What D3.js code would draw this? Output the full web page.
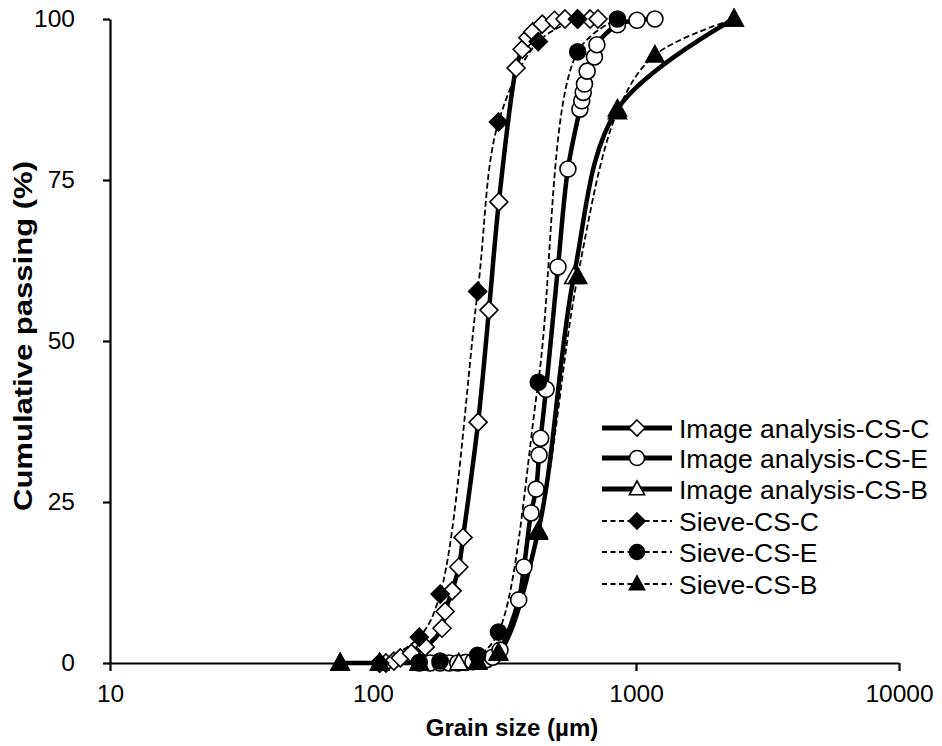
<!DOCTYPE html>
<html>
<head>
<meta charset="utf-8">
<script src="https://cdn.jsdelivr.net/npm/d3@7"></script>
<style>
  html, body { margin: 0; padding: 0; background: #fff; }
  svg { display: block; font-family: Arial, "Liberation Sans", sans-serif; }
</style>
</head>
<body>
<svg id="chart" width="942" height="746"></svg>
<script>
// Grain size (µm) and cumulative passing (%) for each series
const imageC = [[106,0],[112,0],[120,0.3],[127,0.8],[140,1.5],[158,2.5],[183,5.4],[188,8],[200,11.2],[212,14.9],[220,19.5],[251,37.4],[276,54.8],[301,71.6],[350,92.4],[369,95.3],[388,97.1],[405,98],[440,99.2],[490,99.8],[537,100],[600,100],[669,100],[717,100]];
const imageE = [[150,0],[165,0],[180,0],[195,0],[210,0],[225,0.1],[240,0.2],[255,0.3],[270,0.5],[285,0.9],[304,2],[358,9.8],[375,14.9],[399,23.3],[417,27],[428,32.3],[434,34.9],[455,42.5],[505,61.5],[551,76.7],[612,86],[622,87.3],[630,88.6],[637,89.9],[652,91.9],[695,94.1],[710,96],[850,99.1],[1009,99.8],[1180,100]];
const imageB = [[75,0],[106,0],[150,0],[212,0],[250,0.1],[300,1.5],[425,20.5],[580,60],[850,86],[2360,100]];
const sieveC = [[106,0],[150,4],[180,10.7],[250,57.7],[300,84],[425,96.5],[600,100]];
const sieveE = [[150,0.1],[180,0.3],[250,1.2],[300,4.8],[425,43.6],[600,94.9],[850,100]];
const sieveB = [[75,0],[106,0],[150,0],[250,0.2],[300,1.6],[425,20.3],[600,60],[850,85.6],[1180,94.4],[2360,100]];

const seriesNames = ["Image analysis-CS-C","Image analysis-CS-E","Image analysis-CS-B","Sieve-CS-C","Sieve-CS-E","Sieve-CS-B"];
const xTicks = [10, 100, 1000, 10000];
const yTicks = [0, 25, 50, 75, 100];
const xTitle = "Grain size (µm)";
const yTitle = "Cumulative passing (%)";

const series = [
  {name: seriesNames[0], data: imageC, shape: "diamond", filled: false, dashed: false},
  {name: seriesNames[1], data: imageE, shape: "circle",  filled: false, dashed: false},
  {name: seriesNames[2], data: imageB, shape: "triangle",filled: false, dashed: false},
  {name: seriesNames[3], data: sieveC, shape: "diamond", filled: true,  dashed: true},
  {name: seriesNames[4], data: sieveE, shape: "circle",  filled: true,  dashed: true},
  {name: seriesNames[5], data: sieveB, shape: "triangle",filled: true,  dashed: true}
];

const svg = d3.select("#chart");
const x = d3.scaleLog().domain([10, 10000]).range([110, 899]);
const y = d3.scaleLinear().domain([0, 100]).range([663, 19]);

// Axes
const xAxis = svg.append("g").attr("transform", "translate(0,663)")
  .call(d3.axisBottom(x).tickValues(xTicks).tickFormat(d3.format("d")).tickSize(8).tickPadding(14).tickSizeOuter(0));
const yAxis = svg.append("g").attr("transform", "translate(110,0)")
  .call(d3.axisLeft(y).tickValues(yTicks).tickSize(7).tickPadding(28).tickSizeOuter(0));
[xAxis, yAxis].forEach(g => {
  g.select(".domain").attr("stroke", "#000").attr("stroke-width", 2.2);
  g.selectAll(".tick line").attr("stroke", "#000").attr("stroke-width", 2.2);
  g.selectAll(".tick text").attr("fill", "#000").style("font-size", "24.5px")
    .style("font-family", "Arial, 'Liberation Sans', sans-serif");
});

svg.append("text").attr("x", 512).attr("y", 736).attr("text-anchor", "middle")
  .style("font-size", "24px").style("font-weight", "bold").text(xTitle);
// Axis title drawn tall along the axis
svg.append("text").attr("transform", "translate(32,336) rotate(-90)").attr("text-anchor", "middle")
  .attr("textLength", 350).attr("lengthAdjust", "spacingAndGlyphs")
  .style("font-size", "25px").style("font-weight", "bold").text(yTitle);

// Marker shapes
function markerPath(shape, s) {
  if (shape === "diamond") return `M0,${-s}L${s},0L0,${s}L${-s},0Z`;
  if (shape === "triangle") return `M0,${-s}L${s*0.95},${s*0.72}L${-s*0.95},${s*0.72}Z`;
  return d3.symbol().type(d3.symbolCircle).size(Math.PI * s * s)();
}
const markerSize = {diamond: 9, circle: 8, triangle: 9.5};

const line = d3.line().x(d => x(d[0])).y(d => y(d[1])).curve(d3.curveCatmullRom.alpha(0.5));

// Lines first, then markers in series order
const plot = svg.append("g");
series.forEach(s => {
  plot.append("path").datum(s.data).attr("d", line)
    .attr("fill", "none").attr("stroke", "#000")
    .attr("stroke-width", s.dashed ? 1.8 : 4.5)
    .attr("stroke-dasharray", s.dashed ? "6,3" : null);
});
series.forEach(s => {
  plot.append("g").selectAll("path").data(s.data).join("path")
    .attr("transform", d => `translate(${x(d[0])},${y(d[1])})`)
    .attr("d", markerPath(s.shape, markerSize[s.shape]))
    .attr("fill", s.filled ? "#000" : "#fff").attr("stroke", "#000").attr("stroke-width", 1.6);
});

// Legend
const legend = svg.append("g");
const rowY = [428, 458, 489, 521, 552, 584];
series.forEach((s, i) => {
  const g = legend.append("g").attr("transform", `translate(0,${rowY[i]})`);
  g.append("line").attr("x1", 602).attr("x2", 672).attr("y1", 0).attr("y2", 0)
    .attr("stroke", "#000").attr("stroke-width", s.dashed ? 1.8 : 5)
    .attr("stroke-dasharray", s.dashed ? "5,3.5" : null);
  g.append("path").attr("transform", "translate(637,0)")
    .attr("d", markerPath(s.shape, s.shape === "circle" ? 7.5 : 8))
    .attr("fill", s.filled ? "#000" : "#fff").attr("stroke", "#000").attr("stroke-width", 1.6);
  g.append("text").attr("x", 679).attr("y", 9.5).style("font-size", "26.5px").text(s.name);
});
</script>
</body>
</html>
